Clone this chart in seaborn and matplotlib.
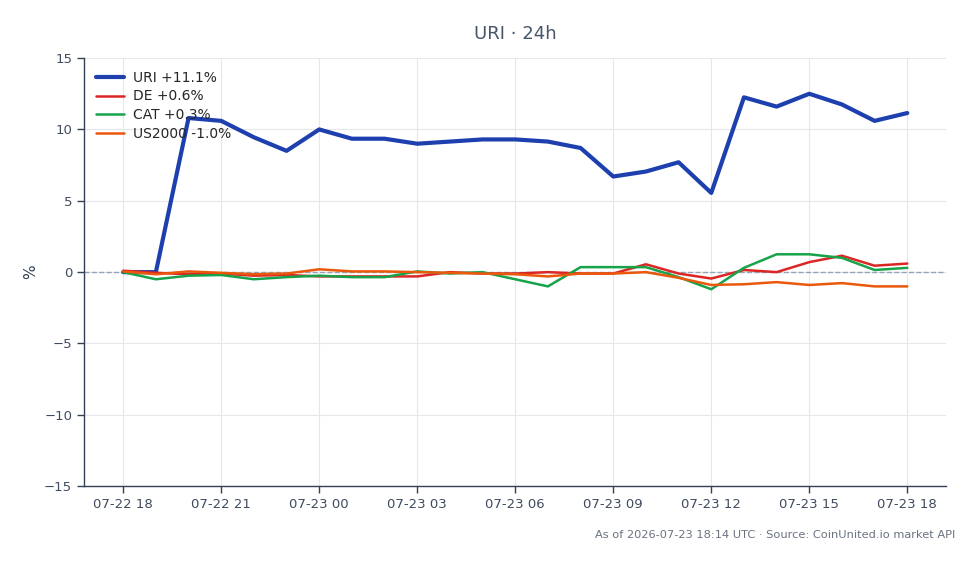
import pandas as pd
import matplotlib.pyplot as plt
import matplotlib.dates as mdates
import seaborn as sns

# Hourly % change over the last 24h
start = "2026-07-22 18:00"
hours = pd.date_range(start, periods=25, freq="h")

uri = [0.0, 0.0, 10.8, 10.6, 9.45, 8.5, 10.0, 9.35, 9.35, 9.0, 9.15, 9.3, 9.3,
       9.15, 8.7, 6.7, 7.05, 7.7, 5.55, 12.25, 11.6, 12.5, 11.75, 10.6, 11.15]
de = [0.1, -0.05, -0.15, -0.1, -0.25, -0.2, -0.3, -0.3, -0.3, -0.3, 0.0, -0.1, -0.1,
      0.0, -0.1, -0.1, 0.55, -0.1, -0.45, 0.15, 0.0, 0.7, 1.15, 0.45, 0.6]
cat = [0.0, -0.5, -0.25, -0.2, -0.5, -0.35, -0.25, -0.35, -0.35, 0.05, -0.1, 0.0, -0.5,
       -1.0, 0.35, 0.35, 0.35, -0.35, -1.2, 0.3, 1.25, 1.25, 1.0, 0.15, 0.3]
us2000 = [0.05, -0.15, 0.05, -0.05, -0.15, -0.1, 0.2, 0.05, 0.05, 0.0, -0.05, -0.1, -0.15,
          -0.3, -0.1, -0.1, 0.0, -0.4, -0.9, -0.85, -0.7, -0.9, -0.77, -1.0, -1.0]

names = ["URI", "DE", "CAT", "US2000"]
labels = ["URI +11.1%", "DE +0.6%", "CAT +0.3%", "US2000 -1.0%"]
colors = ["#1e40af", "#dc2626", "#16a34a", "#ea580c"]
widths = [3.0, 1.8, 1.8, 1.8]

df = pd.DataFrame({"time": hours, "URI": uri, "DE": de, "CAT": cat, "US2000": us2000})
long_df = df.melt(id_vars="time", var_name="ticker", value_name="pct")

sns.set_theme(style="whitegrid")
plt.rcParams["font.family"] = ["DejaVu Sans"]

fig = plt.figure(figsize=(9.79, 5.64), dpi=100)
ax = fig.add_axes([0.0858, 0.138, 0.881, 0.759])

ax.axhline(0, color="#94a3b8", linestyle="--", linewidth=1, zorder=1.5)

for name, label, color, lw in zip(names, labels, colors, widths):
    sub = long_df[long_df["ticker"] == name]
    sns.lineplot(data=sub, x="time", y="pct", ax=ax, color=color, linewidth=lw, label=label)

pad = pd.Timedelta(minutes=72)
ax.set_xlim(hours[0] - pad, hours[-1] + pad)
ax.set_ylim(-15, 15)
ax.set_yticks(range(-15, 16, 5))
ax.xaxis.set_major_locator(mdates.HourLocator(byhour=range(0, 24, 3)))
ax.xaxis.set_major_formatter(mdates.DateFormatter("%m-%d %H"))

ax.grid(True, color="#e5e7eb", linewidth=0.8)
for side in ["top", "right"]:
    ax.spines[side].set_visible(False)
for side in ["left", "bottom"]:
    ax.spines[side].set_color("#334155")
    ax.spines[side].set_linewidth(1.0)
ax.tick_params(axis="both", colors="#334155", labelsize=9.5, length=5, width=1, direction="out")
ax.tick_params(axis="both", labelcolor="#3f4b5e")
ax.xaxis.set_tick_params(bottom=True)
ax.yaxis.set_tick_params(left=True)

ax.set_xlabel("")
ax.set_ylabel("%", color="#334155", fontsize=11)
ax.set_title("URI · 24h", color="#475569", fontsize=13, pad=14)

ax.legend(loc="upper left", frameon=False, fontsize=10, handlelength=2.0,
          handletextpad=0.6, labelspacing=0.35)

fig.text(0.976, 0.052, "As of 2026-07-23 18:14 UTC · Source: CoinUnited.io market API",
         ha="right", va="center", fontsize=8.2, color="#6b7280")

fig.savefig("out.png", dpi=100)
